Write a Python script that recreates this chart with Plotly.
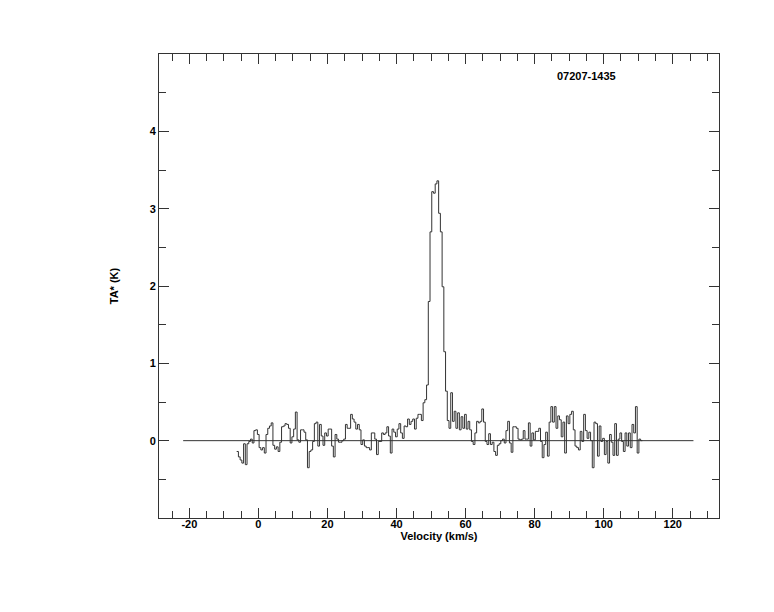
import plotly.graph_objects as go

# Spectrum channels (left edge of first channel, channel width in km/s)
v_start = -6.3
dv = 0.5

seg_a = [-0.14, -0.21, -0.25, -0.29, -0.04, -0.31, -0.04, -0.01, 0.02, -0.03,
         0.13, 0.14, 0.08, -0.09, -0.12, -0.09, -0.16, 0.08, 0.16, 0.19,
         0.23, -0.06, -0.11, -0.08, -0.14, -0.02, 0.18, 0.19, 0.22, 0.21,
         0.16, -0.03, 0.05, 0.15, 0.37, 0.01, -0.02, 0.14, 0.14, 0.11,
         0.01, -0.35, -0.14, -0.12, -0.01, 0.22, 0.24, -0.07, 0.21, 0.06]
seg_b = [-0.06, 0.10, 0.06, 0.15, 0.15, -0.07, -0.21, 0.08, 0.02, -0.02,
         -0.02, 0.00, 0.02, 0.21, 0.16, 0.16, 0.34, 0.28, 0.24, 0.15,
         0.21, 0.14, -0.05, 0.01, -0.07, -0.09, -0.09, -0.12, 0.10, 0.10,
         0.02, -0.18, -0.01, -0.01, 0.10, 0.08, 0.10, 0.18, 0.06, -0.16,
         0.15, 0.11, 0.05, 0.15, 0.22, 0.10, 0.03, 0.19, 0.18, 0.28]
seg_c = [0.21, 0.25, 0.28, 0.15, 0.29, 0.34, 0.34, 0.26, 0.49, 0.53,
         0.72, 1.80, 2.70, 3.22, 3.20, 3.32, 3.36, 2.94, 2.70, 1.99,
         1.15, 0.64, 0.26, 0.16, 0.62, 0.25, 0.38, 0.16, 0.36, 0.14,
         0.31, 0.16, 0.34, 0.15, 0.25, 0.14, -0.01, -0.05, 0.10, 0.25, 0.23]
seg_d = [0.25, 0.41, 0.24, -0.01, -0.05, 0.09, -0.05, -0.02, -0.14, -0.19,
         -0.06, -0.04, 0.00, 0.02, -0.03, 0.13, 0.25, -0.03, -0.15, 0.18,
         0.18, 0.16, 0.02, 0.01, 0.02, 0.13, 0.02, 0.02, 0.23, -0.07,
         0.10, 0.01, 0.12, 0.12, 0.16, -0.01, -0.22, -0.05, 0.11, -0.20,
         0.24, 0.44, 0.24, 0.44, 0.16, 0.32]
seg_e = [0.27, 0.05, 0.24, -0.16, 0.32, 0.22, 0.34, 0.38, 0.14, -0.07,
         -0.09, -0.12, 0.12, -0.01, 0.34, 0.13, 0.03, 0.11, 0.00, -0.35,
         0.24, 0.22, -0.20, 0.19, -0.01, 0.03, -0.18, -0.01, -0.29, 0.08,
         -0.02, -0.19, 0.22, -0.19, 0.02, 0.10, -0.01, -0.14, 0.10, -0.07,
         0.10, -0.09, 0.21, 0.10, 0.44, -0.16, 0.02, 0.00]

ta = seg_a + seg_b + seg_c + seg_d + seg_e
vel = [v_start + i * dv for i in range(len(ta))]
# extend final step to its right edge
vel_plot = vel + [v_start + len(ta) * dv]
ta_plot = ta + [ta[-1]]

baseline_v = [-21.8, 126.0]
baseline_t = [0.0, 0.0]

x_ticks = [-20, 0, 20, 40, 60, 80, 100, 120]
y_ticks = [0, 1, 2, 3, 4]
source_name = "07207-1435"

line_col = "#333333"
font_fam = "Liberation Sans, Arial, Helvetica, sans-serif"

fig = go.Figure()
fig.add_trace(go.Scatter(x=baseline_v, y=baseline_t, mode="lines",
                         line=dict(color=line_col, width=1), showlegend=False,
                         hoverinfo="skip"))
fig.add_trace(go.Scatter(x=vel_plot, y=ta_plot, mode="lines",
                         line=dict(color=line_col, width=1, shape="hv"),
                         showlegend=False))

fig.add_annotation(text=source_name, xref="paper", yref="paper",
                   x=0.764, y=0.953, xanchor="center", yanchor="middle",
                   showarrow=False,
                   font=dict(family=font_fam, size=11, color="black", weight="bold"))

fig.update_layout(
    width=766, height=604,
    margin=dict(l=151, r=55, t=46, b=94, autoexpand=False),
    paper_bgcolor="white", plot_bgcolor="white",
    font=dict(family=font_fam, color="black"),
    xaxis=dict(range=[-28.8, 133.4], tickvals=x_ticks,
               ticktext=[str(t) for t in x_ticks],
               ticks="inside", ticklen=10, tickwidth=1, tickcolor=line_col,
               minor=dict(dtick=5, tick0=0, ticks="inside", ticklen=7,
                          tickcolor=line_col, tickwidth=1),
               showline=True, linecolor=line_col, linewidth=1, mirror="allticks",
               showgrid=False, zeroline=False,
               ticklabelstandoff=-4,
               tickfont=dict(size=11, weight="bold"),
               title=dict(text="Velocity (km/s)", standoff=0,
                          font=dict(size=11, weight="bold"))),
    yaxis=dict(range=[-1.0, 5.0], tickvals=y_ticks,
               ticktext=[str(t) for t in y_ticks],
               ticks="inside", ticklen=10, tickwidth=1, tickcolor=line_col,
               minor=dict(dtick=0.5, tick0=0, ticks="inside", ticklen=7,
                          tickcolor=line_col, tickwidth=1),
               showline=True, linecolor=line_col, linewidth=1, mirror="allticks",
               showgrid=False, zeroline=False,
               tickfont=dict(size=11, weight="bold"),
               title=dict(text="TA* (K)", standoff=28,
                          font=dict(size=11, weight="bold"))),
)

fig.write_html("out.html")
